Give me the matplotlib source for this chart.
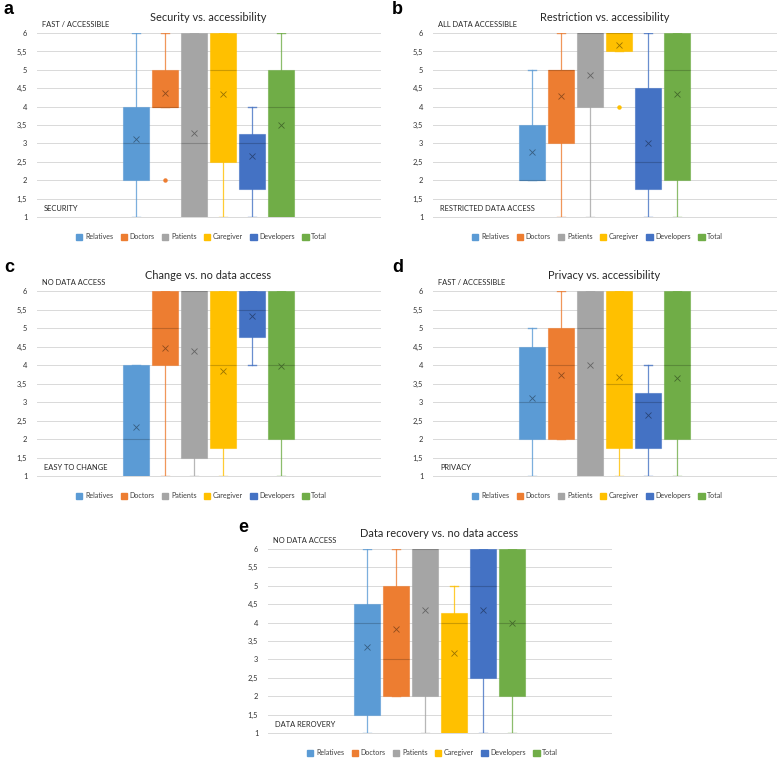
import matplotlib.pyplot as plt
import matplotlib.colors as mcolors
from matplotlib.patches import Patch

# ==========================================================
# Data
# ==========================================================

groups = ["Relatives", "Doctors", "Patients", "Caregiver", "Developers", "Total"]
colors = ["#5B9BD5", "#ED7D31", "#A5A5A5", "#FFC000", "#4472C4", "#70AD47"]

yticks = [1, 1.5, 2, 2.5, 3, 3.5, 4, 4.5, 5, 5.5, 6]
ytick_labels = ["1", "1,5", "2", "2,5", "3", "3,5", "4", "4,5", "5", "5,5", "6"]

# a - Security vs. accessibility
a_low = [1, 4, 1, 1, 1, 1]
a_q1 = [2, 4, 1, 2.5, 1.75, 1]
a_med = [3, 4, 3, 5, 3, 4]
a_q3 = [4, 5, 6, 6, 3.25, 5]
a_high = [6, 6, 6, 6, 4, 6]
a_mean = [3.12, 4.37, 3.28, 4.33, 2.65, 3.5]
a_fliers = [[], [2], [], [], [], []]

# b - Restriction vs. accessibility
b_low = [2, 1, 1, 5.5, 1, 1]
b_q1 = [2, 3, 4, 5.5, 1.75, 2]
b_med = [2, 5, 6, 6, 2.5, 5]
b_q3 = [3.5, 5, 6, 6, 4.5, 6]
b_high = [5, 6, 6, 6, 6, 6]
b_mean = [2.77, 4.28, 4.85, 5.67, 3.0, 4.35]
b_fliers = [[], [], [], [4], [], []]

# c - Change vs. no data access
c_low = [1, 1, 1, 1, 4, 1]
c_q1 = [1, 4, 1.5, 1.75, 4.75, 2]
c_med = [2, 5, 6, 4, 5.5, 4]
c_q3 = [4, 6, 6, 6, 6, 6]
c_high = [4, 6, 6, 6, 6, 6]
c_mean = [2.33, 4.45, 4.38, 3.83, 5.33, 3.98]
c_fliers = [[], [], [], [], [], []]

# d - Privacy vs. accessibility
d_low = [1, 2, 1, 1, 1, 1]
d_q1 = [2, 2, 1, 1.75, 1.75, 2]
d_med = [3, 4, 5, 3.5, 3, 4]
d_q3 = [4.5, 5, 6, 6, 3.25, 6]
d_high = [5, 6, 6, 6, 4, 6]
d_mean = [3.12, 3.72, 4.0, 3.67, 2.65, 3.65]
d_fliers = [[], [], [], [], [], []]

# e - Data recovery vs. no data access
e_low = [1, 2, 1, 1, 1, 1]
e_q1 = [1.5, 2, 2, 1, 2.5, 2]
e_med = [4, 3, 6, 4, 5, 4]
e_q3 = [4.5, 5, 6, 4.25, 6, 6]
e_high = [6, 6, 6, 5, 6, 6]
e_mean = [3.33, 3.82, 4.33, 3.17, 4.33, 3.98]
e_fliers = [[], [], [], [], [], []]


def darker(c, f=0.7):
    r, g, b = mcolors.to_rgb(c)
    return (r * f, g * f, b * f)


def draw_panel(ax, low, q1, med, q3, high, mean, fliers, title, top_label, bottom_label):
    for i in range(len(groups)):
        stats = [{
            "whislo": low[i], "q1": q1[i], "med": med[i], "q3": q3[i],
            "whishi": high[i], "mean": mean[i], "fliers": fliers[i],
        }]
        col = colors[i]
        ax.bxp(
            stats, positions=[i], widths=0.88, capwidths=0.28,
            patch_artist=True, showmeans=True, manage_ticks=False,
            boxprops=dict(facecolor=col, edgecolor=mcolors.to_rgba(col, 0.6), linewidth=0.8, zorder=3),
            medianprops=dict(color=darker(col, 0.8), linewidth=0.8, zorder=4),
            meanprops=dict(marker="x", markersize=4, markeredgecolor=darker(col, 0.6),
                           markeredgewidth=0.6, zorder=5),
            whiskerprops=dict(color=col, linewidth=0.9, alpha=0.8, zorder=2),
            capprops=dict(color=col, linewidth=1.0, alpha=0.8, zorder=2),
            flierprops=dict(marker="o", markersize=2.2, markerfacecolor=col,
                            markeredgecolor=col, zorder=5),
        )

    ax.set_xlim(-3.41, 8.41)
    ax.set_ylim(1, 6)
    ax.set_yticks(yticks)
    ax.set_yticklabels(ytick_labels)
    ax.set_xticks([])
    ax.tick_params(axis="y", length=0, labelsize=5.4, pad=7, labelcolor="#333333")
    for s in ax.spines.values():
        s.set_visible(False)
    for yv in yticks:
        ax.axhline(yv, color="#D9D9D9", linewidth=0.7, zorder=0, clip_on=False)

    ax.set_title(title, fontsize=7.9, pad=9, color="#262626")
    ax.text(0.015, 1.045, top_label, transform=ax.transAxes, fontsize=5.4,
            va="center", ha="left", color="#262626")
    ax.text(0.02, 0.045, bottom_label, transform=ax.transAxes, fontsize=5.4,
            va="center", ha="left", color="#262626")

    handles = [Patch(facecolor=c, edgecolor=c) for c in colors]
    ax.legend(handles, groups, loc="center", bbox_to_anchor=(0.48, -0.108), ncol=6,
              frameon=False, fontsize=5.1, handlelength=0.9, handleheight=0.9,
              handletextpad=0.4, columnspacing=1.0, labelcolor="#404040")


plt.rcParams["font.family"] = ["Lato", "DejaVu Sans"]

fig = plt.figure(figsize=(7.78, 7.58), dpi=100)

ax_a = fig.add_axes([0.0476, 0.7137, 0.4409, 0.2427])
ax_b = fig.add_axes([0.5566, 0.7137, 0.4409, 0.2427])
ax_c = fig.add_axes([0.0476, 0.3720, 0.4409, 0.2440])
ax_d = fig.add_axes([0.5566, 0.3720, 0.4409, 0.2440])
ax_e = fig.add_axes([0.3445, 0.0330, 0.4409, 0.2427])

draw_panel(ax_a, a_low, a_q1, a_med, a_q3, a_high, a_mean, a_fliers,
           "Security vs. accessibility", "FAST / ACCESSIBLE", "SECURITY")
draw_panel(ax_b, b_low, b_q1, b_med, b_q3, b_high, b_mean, b_fliers,
           "Restriction vs. accessibility", "ALL DATA ACCESSIBLE", "RESTRICTED DATA ACCESS")
draw_panel(ax_c, c_low, c_q1, c_med, c_q3, c_high, c_mean, c_fliers,
           "Change vs. no data access", "NO DATA ACCESS", "EASY TO CHANGE")
draw_panel(ax_d, d_low, d_q1, d_med, d_q3, d_high, d_mean, d_fliers,
           "Privacy vs. accessibility", "FAST / ACCESSIBLE", "PRIVACY")
draw_panel(ax_e, e_low, e_q1, e_med, e_q3, e_high, e_mean, e_fliers,
           "Data recovery vs. no data access", "NO DATA ACCESS", "DATA REROVERY")

# panel letters
for letter, x, y in [("a", 4, 10), ("b", 392, 10), ("c", 4, 267), ("d", 392, 267), ("e", 238, 527)]:
    fig.text(x / 778, 1 - y / 758, letter, fontsize=13, fontweight="bold",
             family="Liberation Sans", va="center", ha="left")

fig.savefig("out.png", dpi=100)
